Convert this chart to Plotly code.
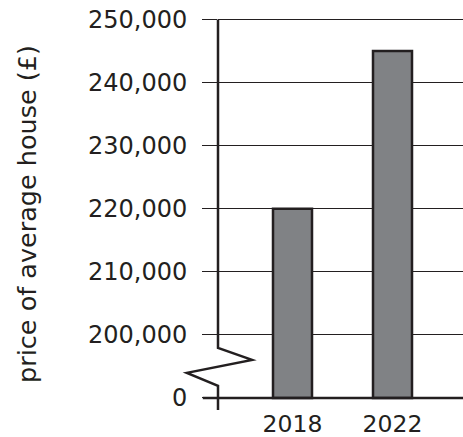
import plotly.graph_objects as go

years = ["2018", "2022"]
prices = [220000, 245000]
tick_values = [190000, 200000, 210000, 220000, 230000, 240000, 250000]
tick_labels = ["0", "200,000", "210,000", "220,000", "230,000", "240,000", "250,000"]

INK = "#231f20"
FONT = "DejaVu Sans"
axis_floor = tick_values[0]
y_range = [188090, 250250]

fig = go.Figure()
fig.add_trace(go.Bar(
    x=years, y=[p - axis_floor for p in prices], base=axis_floor,
    width=0.39,
    marker=dict(color="#808285", line=dict(color=INK, width=2.5)),
    hoverinfo="skip",
))

# thick zero line
fig.add_shape(type="line", xref="paper", yref="y", x0=-0.062, x1=1.0,
              y0=axis_floor, y1=axis_floor, line=dict(color=INK, width=2.5), layer="above")
# broken y-axis line with zig-zag
fig.add_shape(type="path", xref="paper", yref="y",
              path=("M 0 250000 L 0 197950 L 0.139 196041 L -0.127 193975 "
                    "L 0 191908 L 0 188090"),
              line=dict(color=INK, width=2.5), layer="above")

fig.update_layout(
    width=463, height=437,
    margin=dict(l=218, r=0, t=18.4, b=27, autoexpand=False),
    paper_bgcolor="white", plot_bgcolor="white",
    showlegend=False,
    font=dict(family=FONT, color=INK, size=24),
    xaxis=dict(range=[-0.745, 1.705], showline=False, showgrid=False, zeroline=False,
               automargin=False,
               ticks="", ticklabelstandoff=-3, tickfont=dict(size=23.5, family=FONT, color=INK)),
    yaxis=dict(range=y_range, tickvals=tick_values, ticktext=tick_labels,
               automargin=False,
               showgrid=True, gridcolor=INK, gridwidth=1.2, zeroline=False,
               showline=False, ticks="outside", ticklen=15, tickwidth=1.2, tickcolor=INK,
               ticklabelstandoff=10,
               tickfont=dict(size=24, family=FONT, color=INK),
               title=dict(text="price of average house (£)", font=dict(size=25.5, family=FONT, color=INK),
                          standoff=44)),
)

fig.write_html("out.html", config={"displayModeBar": False},
               post_script="document.body.style.margin='0';")
